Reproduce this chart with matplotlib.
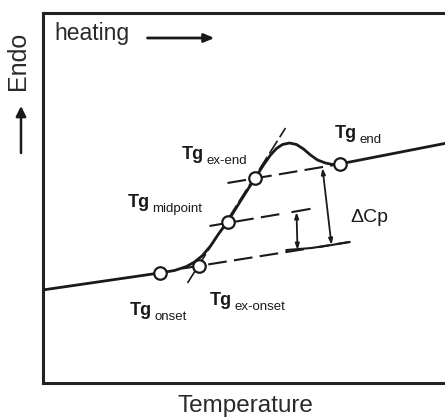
import matplotlib
matplotlib.use('Agg')
import matplotlib.pyplot as plt

plt.rcParams['font.family'] = ['Liberation Sans', 'DejaVu Sans']

# DSC trace (arbitrary temperature / heat-flow units)
temperature = [0, 117, 132, 144, 152, 160, 168, 176, 185, 198, 212, 221, 228,
               234, 240, 247, 254, 261, 268, 275, 283, 290, 297, 420]
heat_flow = [93, 110, 112.5, 116.5, 121, 127.5, 137, 149, 161, 182, 204, 218,
             228, 234.5, 238.5, 240, 238.5, 234, 228, 223, 220, 218.5, 219, 243]

# characteristic points on the trace
tg_names = ['onset', 'ex-onset', 'midpoint', 'ex-end', 'end']
tg_temp = [117, 156, 185, 212, 297]
tg_flow = [110, 117, 161, 205, 219]
# label anchors (left edge, baseline of "Tg")
tg_label_x = [87, 167, 85, 139, 292]
tg_label_y = [68, 78, 176, 224, 245]

# construction lines: (x0, y0, x1, y1)
lower_base = (140, 114.5, 307, 141)
mid_line = (167, 157, 244, 170)
upper_base = (185, 200, 292, 218)
tangent = (145, 100, 243, 255)
caps = [(250, 171, 267, 174), (244, 133, 269, 135), (277, 136, 307, 141)]
dcp_arrow = (280, 215, 289, 138)
half_arrow = (254, 171, 255, 133)

ink = '#1a1a1a'
fig = plt.figure(figsize=(4.45, 4.2), dpi=100)
ax = fig.add_axes([42.5 / 445, 37 / 420, 430 / 445, 370 / 420])
ax.set_xlim(0, 430)
ax.set_ylim(0, 370)
ax.set_xticks([]); ax.set_yticks([])
for side in ['left', 'top', 'bottom']:
    ax.spines[side].set_linewidth(2.2)
    ax.spines[side].set_color('#222222')
ax.spines['right'].set_visible(False)

dash = (9, 3.5)
for seg in [lower_base, mid_line, upper_base]:
    ax.plot([seg[0], seg[2]], [seg[1], seg[3]], color=ink, lw=1.5,
            dashes=dash, zorder=2)
ax.plot([tangent[0], tangent[2]], [tangent[1], tangent[3]], color=ink, lw=1.2,
        dashes=(9, 2.5), zorder=2)
for seg in caps:
    ax.plot([seg[0], seg[2]], [seg[1], seg[3]], color=ink, lw=1.5, zorder=2)

for arr in [dcp_arrow, half_arrow]:
    ax.annotate('', xy=(arr[2], arr[3]), xytext=(arr[0], arr[1]),
                arrowprops=dict(arrowstyle='<|-|>,head_length=0.35,head_width=0.12',
                                color=ink, lw=1.3, shrinkA=0, shrinkB=0))

ax.plot(temperature, heat_flow, color=ink, lw=2.0, solid_joinstyle='round',
        solid_capstyle='round', zorder=3)
ax.plot(tg_temp, tg_flow, 'o', ms=9, mfc='white', mec=ink, mew=1.6, zorder=4)

for name, lx, ly in zip(tg_names, tg_label_x, tg_label_y):
    ax.text(lx, ly, 'Tg', fontsize=13, fontweight='bold', color=ink,
            ha='left', va='baseline')
    ax.annotate(name, xy=(lx, ly), xytext=(18, -3.5), textcoords='offset points',
                fontsize=9.5, color=ink, ha='left', va='baseline')

ax.text(308, 161, '\u0394Cp', fontsize=14, color=ink, ha='left', va='baseline')

ax.text(12, 343, 'heating', fontsize=16.5, color='#2a2a2a', ha='left', va='baseline')
ax.annotate('', xy=(172, 345), xytext=(105, 345),
            arrowprops=dict(arrowstyle='-|>,head_length=0.6,head_width=0.25',
                            color=ink, lw=2.0, shrinkA=0, shrinkB=0))

fig.text(18 / 445, 1 - 61 / 420, 'Endo', rotation=90, fontsize=18,
         color='#2a2a2a', ha='center', va='center')
fig.patches.append(matplotlib.patches.FancyArrowPatch(
    (21 / 445, 1 - 153 / 420), (21 / 445, 1 - 106 / 420),
    transform=fig.transFigure, arrowstyle='-|>,head_length=6,head_width=3',
    color=ink, lw=1.8, shrinkA=0, shrinkB=0))
fig.text(245 / 445, 8 / 420, 'Temperature', fontsize=17.5, color='#2a2a2a',
         ha='center', va='baseline')

fig.savefig('out.png', dpi=100)
